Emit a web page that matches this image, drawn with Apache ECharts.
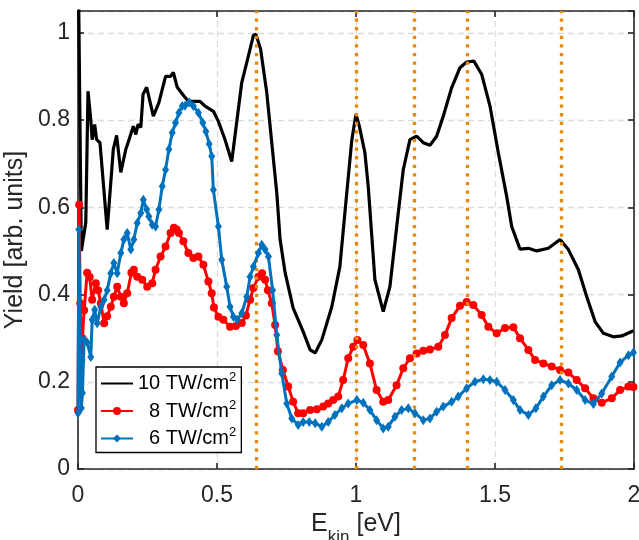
<!DOCTYPE html>
<html><head><meta charset="utf-8">
<script src="https://cdn.jsdelivr.net/npm/echarts@6/dist/echarts.min.js"></script>
<style>html,body{margin:0;padding:0;background:#fff}#c{width:639px;height:540px}</style>
</head><body><div id="c"></div>
<script>
const seriesNames = ['10 TW/cm2', '8 TW/cm2', '6 TW/cm2'];
const xTickValues = [0, 0.5, 1, 1.5, 2];
const yTickValues = [0, 0.2, 0.4, 0.6, 0.8, 1];
const peakPositions = [0.637, 1.0, 1.213, 1.403, 1.742];

const yield10 = [[0.002,1.10],[0.012,0.50],[0.028,0.565],[0.036,0.866],[0.046,0.80],[0.051,0.755],[0.060,0.79],[0.067,0.755],[0.079,0.748],[0.105,0.549],[0.127,0.733],[0.139,0.765],[0.154,0.68],[0.172,0.733],[0.180,0.748],[0.199,0.786],[0.208,0.767],[0.216,0.79],[0.226,0.783],[0.234,0.859],[0.247,0.875],[0.271,0.809],[0.291,0.84],[0.315,0.90],[0.333,0.90],[0.343,0.909],[0.357,0.875],[0.381,0.855],[0.397,0.843],[0.439,0.843],[0.457,0.832],[0.487,0.82],[0.505,0.797],[0.529,0.755],[0.553,0.705],[0.589,0.886],[0.613,0.947],[0.631,0.994],[0.640,0.997],[0.657,0.962],[0.679,0.863],[0.715,0.633],[0.727,0.526],[0.745,0.45],[0.774,0.369],[0.810,0.315],[0.835,0.273],[0.853,0.266],[0.877,0.296],[0.913,0.372],[0.942,0.464],[0.960,0.587],[0.985,0.755],[1.000,0.813],[1.012,0.786],[1.032,0.725],[1.044,0.648],[1.068,0.434],[1.098,0.361],[1.122,0.418],[1.152,0.587],[1.170,0.686],[1.194,0.755],[1.218,0.763],[1.242,0.748],[1.266,0.742],[1.290,0.763],[1.314,0.809],[1.344,0.874],[1.374,0.92],[1.398,0.933],[1.424,0.935],[1.452,0.905],[1.482,0.832],[1.512,0.725],[1.542,0.625],[1.560,0.556],[1.590,0.504],[1.620,0.506],[1.650,0.50],[1.692,0.506],[1.734,0.526],[1.764,0.503],[1.800,0.457],[1.830,0.395],[1.860,0.338],[1.890,0.311],[1.926,0.303],[1.956,0.305],[1.998,0.317]];

const yield8 = [[0.000,0.135],[0.004,0.606],[0.008,0.38],[0.012,0.25],[0.016,0.30],[0.022,0.364],[0.033,0.45],[0.042,0.44],[0.051,0.388],[0.064,0.426],[0.072,0.41],[0.082,0.38],[0.094,0.334],[0.105,0.35],[0.118,0.372],[0.129,0.395],[0.141,0.418],[0.154,0.395],[0.165,0.38],[0.177,0.403],[0.192,0.45],[0.201,0.457],[0.213,0.441],[0.231,0.434],[0.249,0.418],[0.267,0.426],[0.279,0.457],[0.297,0.487],[0.315,0.51],[0.333,0.541],[0.345,0.553],[0.355,0.549],[0.363,0.541],[0.379,0.522],[0.397,0.495],[0.415,0.484],[0.433,0.487],[0.451,0.468],[0.469,0.43],[0.481,0.403],[0.489,0.37],[0.505,0.349],[0.523,0.342],[0.547,0.326],[0.568,0.328],[0.589,0.335],[0.604,0.352],[0.619,0.388],[0.631,0.415],[0.649,0.441],[0.662,0.449],[0.673,0.434],[0.683,0.41],[0.697,0.38],[0.709,0.33],[0.719,0.27],[0.737,0.227],[0.756,0.189],[0.774,0.154],[0.792,0.128],[0.810,0.128],[0.835,0.135],[0.859,0.137],[0.882,0.143],[0.900,0.15],[0.918,0.158],[0.936,0.166],[0.954,0.204],[0.972,0.254],[0.990,0.28],[1.005,0.296],[1.026,0.284],[1.050,0.242],[1.074,0.181],[1.098,0.154],[1.116,0.158],[1.146,0.192],[1.170,0.231],[1.194,0.254],[1.218,0.265],[1.242,0.271],[1.266,0.274],[1.296,0.28],[1.320,0.307],[1.344,0.346],[1.374,0.374],[1.398,0.383],[1.422,0.376],[1.452,0.353],[1.476,0.326],[1.506,0.311],[1.536,0.323],[1.566,0.325],[1.590,0.30],[1.620,0.273],[1.644,0.25],[1.674,0.242],[1.704,0.235],[1.734,0.227],[1.764,0.221],[1.794,0.204],[1.824,0.185],[1.854,0.162],[1.884,0.152],[1.920,0.162],[1.950,0.181],[1.980,0.189],[1.998,0.188]];

const yield6 = [[0.000,0.128],[0.003,0.549],[0.008,0.30],[0.012,0.14],[0.016,0.174],[0.022,0.296],[0.033,0.29],[0.046,0.257],[0.051,0.342],[0.060,0.365],[0.069,0.334],[0.082,0.372],[0.094,0.388],[0.105,0.41],[0.118,0.449],[0.129,0.472],[0.141,0.449],[0.154,0.495],[0.165,0.526],[0.177,0.541],[0.190,0.503],[0.201,0.526],[0.213,0.564],[0.226,0.587],[0.235,0.617],[0.247,0.595],[0.255,0.579],[0.267,0.56],[0.279,0.556],[0.291,0.595],[0.303,0.648],[0.315,0.686],[0.327,0.733],[0.339,0.771],[0.351,0.794],[0.363,0.817],[0.375,0.832],[0.385,0.833],[0.400,0.84],[0.415,0.832],[0.433,0.817],[0.449,0.794],[0.460,0.774],[0.472,0.745],[0.481,0.717],[0.487,0.64],[0.505,0.556],[0.517,0.48],[0.535,0.418],[0.547,0.372],[0.559,0.349],[0.573,0.342],[0.589,0.357],[0.607,0.395],[0.619,0.441],[0.631,0.464],[0.649,0.495],[0.661,0.514],[0.673,0.503],[0.685,0.487],[0.700,0.41],[0.715,0.307],[0.733,0.219],[0.751,0.15],[0.769,0.116],[0.792,0.101],[0.810,0.108],[0.832,0.108],[0.853,0.105],[0.877,0.097],[0.900,0.108],[0.924,0.124],[0.949,0.139],[0.972,0.15],[1.003,0.158],[1.026,0.152],[1.050,0.135],[1.074,0.112],[1.098,0.093],[1.116,0.097],[1.140,0.12],[1.164,0.135],[1.188,0.139],[1.212,0.128],[1.242,0.112],[1.266,0.116],[1.290,0.131],[1.314,0.143],[1.344,0.154],[1.368,0.166],[1.398,0.185],[1.428,0.20],[1.458,0.206],[1.482,0.204],[1.506,0.20],[1.536,0.181],[1.566,0.158],[1.590,0.135],[1.620,0.124],[1.647,0.139],[1.674,0.166],[1.704,0.192],[1.734,0.204],[1.764,0.196],[1.794,0.181],[1.824,0.158],[1.854,0.149],[1.884,0.173],[1.920,0.212],[1.950,0.244],[1.980,0.261],[1.998,0.267]];

const FONT = '"Liberation Sans", Arial, Helvetica, sans-serif';
const AX = '#262626';
const chart = echarts.init(document.getElementById('c'), null, {renderer: 'canvas'});

const xTickSet = new Set(xTickValues.map(v => v.toFixed(3)));
const yTickSet = new Set(yTickValues.map(v => v.toFixed(3)));
const gridDash = {show: true, lineStyle: {color: '#dcdcdc', width: 1.3, type: [6, 4]}};

function baseX(pos, showLabel) {
  return {
    type: 'value', position: pos, min: 0, max: 2, interval: 0.5,
    axisLine: {show: true, onZero: false, lineStyle: {color: AX, width: 1.6}},
    axisTick: {show: true, inside: true, length: 6, lineStyle: {color: AX, width: 1.6}},
    axisLabel: {show: showLabel, fontSize: 23, fontFamily: FONT, color: AX, margin: 15,
      formatter: v => xTickSet.has(v.toFixed(3)) ? String(v) : ''},
    splitLine: showLabel ? gridDash : {show: false}
  };
}
function baseY(pos, showLabel) {
  return {
    type: 'value', position: pos, min: 0, max: 1.05, interval: 0.2,
    axisLine: {show: true, onZero: false, lineStyle: {color: AX, width: 1.6}},
    axisTick: {show: true, inside: true, length: 6, lineStyle: {color: AX, width: 1.6}},
    axisLabel: {show: showLabel, fontSize: 23, fontFamily: FONT, color: AX, margin: 8, showMaxLabel: false,
      formatter: v => yTickSet.has(v.toFixed(3)) ? String(Math.round(v * 10) / 10) : ''},
    splitLine: showLabel ? gridDash : {show: false}
  };
}

const xMain = baseX('bottom', true);
xMain.name = '{e|E}{k|kin}{e| [eV]}';
xMain.nameLocation = 'middle';
xMain.nameGap = 40;
xMain.nameTextStyle = {fontFamily: FONT, color: AX, rich: {
  e: {fontSize: 25, fontFamily: FONT, color: AX, lineHeight: 25, verticalAlign: 'top'},
  k: {fontSize: 17, fontFamily: FONT, color: AX, lineHeight: 17, padding: [17, 0, 0, 0], verticalAlign: 'top'}
}};
const yMain = baseY('left', true);
yMain.name = 'Yield [arb. units]';
yMain.nameLocation = 'middle';
yMain.nameGap = 50;
yMain.nameTextStyle = {fontSize: 25, fontFamily: FONT, color: AX};

const option = {
  animation: false,
  backgroundColor: '#fff',
  grid: {left: 78, right: 5, top: 11, bottom: 71, containLabel: false, outerBoundsMode: 'none'},
  xAxis: [xMain, baseX('top', false)],
  yAxis: [yMain, baseY('right', false)],
  legend: {
    orient: 'vertical', left: 96, top: 367,
    padding: [4, 5, 4, 4], itemGap: 5, itemWidth: 32, itemHeight: 10,
    borderColor: '#000', borderWidth: 1.3, backgroundColor: '#fff',
    data: [
      {name: seriesNames[0], itemStyle: {color: 'transparent', opacity: 0}},
      {name: seriesNames[1]},
      {name: seriesNames[2]}
    ],
    formatter: name => {
      const m = name.replace(/2$/, '');
      return (m.indexOf('10') === 0 ? '{m|' : '{p|') + m + '}{s|2}';
    },
    textStyle: {fontFamily: FONT, color: '#000', fontSize: 20, rich: {
      m: {fontSize: 20, fontFamily: FONT, color: '#000', lineHeight: 25},
      p: {fontSize: 20, fontFamily: FONT, color: '#000', lineHeight: 25, padding: [0, 0, 0, 11]},
      s: {fontSize: 13, fontFamily: FONT, color: '#000', lineHeight: 13, verticalAlign: 'top'}
    }}
  },
  series: [
    {name: seriesNames[0], type: 'line', data: yield10, symbol: 'none', z: 2,
     lineStyle: {color: '#000', width: 3.2}, itemStyle: {color: '#000'}},
    {name: 'peaks', type: 'line', data: [], z: 3, silent: true,
     markLine: {silent: true, symbol: ['none', 'none'], label: {show: false}, animation: false,
       lineStyle: {color: '#E5890A', width: 3.3, type: [3.3, 5.3], cap: 'butt'},
       data: peakPositions.map(x => ({xAxis: x}))}},
    {name: seriesNames[1], type: 'line', data: yield8, symbol: 'circle', symbolSize: 8, showAllSymbol: true, z: 4,
     lineStyle: {color: '#FF0000', width: 3}, itemStyle: {color: '#FF0000'}},
    {name: seriesNames[2], type: 'line', data: yield6, symbol: 'diamond', symbolSize: [7, 10], showAllSymbol: true, z: 5,
     lineStyle: {color: '#0072BD', width: 3}, itemStyle: {color: '#0072BD'}}
  ]
};
chart.setOption(option);
</script></body></html>
